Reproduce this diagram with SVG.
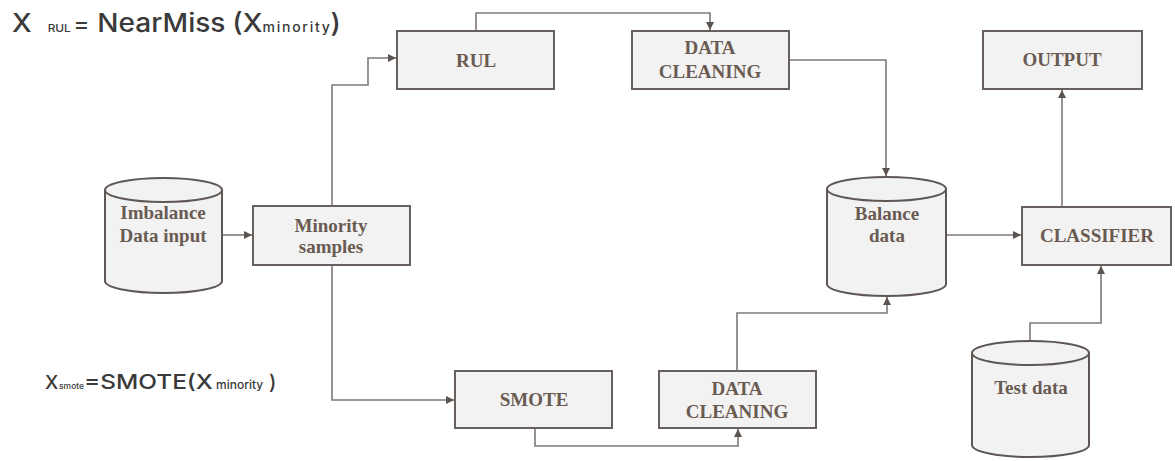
<svg xmlns="http://www.w3.org/2000/svg" width="1175" height="461" viewBox="0 0 1175 461">
<defs>
<style>
.box{fill:#f2f2f2;stroke:#67605c;stroke-width:2}
.cyl{fill:#f2f2f2;stroke:#5f5753;stroke-width:2}
.lbl{font-family:"Liberation Serif","Times New Roman",serif;font-weight:bold;font-size:19px;fill:#6a5b52;text-anchor:middle}
.con{fill:none;stroke:#7d7a78;stroke-width:1.6}
.f{font-family:Inter,"Liberation Sans",Arial,sans-serif;font-weight:500;fill:#3a3a3a}
</style>
<marker id="ah" viewBox="0 0 10 10" refX="10" refY="5" markerWidth="8" markerHeight="8" markerUnits="userSpaceOnUse" orient="auto">
<path d="M0,0 L10,5 L0,10 z" fill="#5a5350"/>
</marker>
</defs>
<rect width="1175" height="461" fill="#ffffff"/>

<g id="formula-rul">
<text class="f" transform="translate(12,32) scale(1.08,1)" font-size="26"><tspan x="0">X</tspan><tspan x="33" font-size="11">RUL</tspan><tspan x="57" font-size="22">=</tspan><tspan x="79">NearMiss</tspan><tspan x="204">(X</tspan><tspan x="232" font-size="13" letter-spacing="1.6">minority</tspan><tspan x="295">)</tspan></text>
</g>
<g id="formula-smote">
<text class="f" font-size="19" y="389"><tspan x="45">X</tspan><tspan x="59" font-size="8.5">smote</tspan><tspan x="216" font-size="12">minority</tspan><tspan x="269" font-size="20">)</tspan></text>
<text class="f" font-size="20" transform="translate(84,389) scale(1.22,1)">=SMOTE(X</text>
</g>

<g id="connectors">
<path class="con" d="M222,235 H252" marker-end="url(#ah)"/>
<path class="con" d="M332,206 V85 H368 V58 H396" marker-end="url(#ah)"/>
<path class="con" d="M332,265 V400 H454" marker-end="url(#ah)"/>
<path class="con" d="M476,31 V13 H710 V30" marker-end="url(#ah)"/>
<path class="con" d="M789,60 H886 V176" marker-end="url(#ah)"/>
<path class="con" d="M535,428 V446 H738 V429" marker-end="url(#ah)"/>
<path class="con" d="M737,371 V313 H887 V297" marker-end="url(#ah)"/>
<path class="con" d="M946,235 H1021" marker-end="url(#ah)"/>
<path class="con" d="M1062,207 V90" marker-end="url(#ah)"/>
<path class="con" d="M1030,341 V323 H1101 V266" marker-end="url(#ah)"/>
</g>

<g id="imbalance-data">
<path class="cyl" d="M105,190 V281 A58.5,12 0 0 0 222,281 V190 A58.5,12 0 0 0 105,190 Z"/>
<path class="cyl" fill="none" d="M105,190 A58.5,12 0 0 0 222,190"/>
<text class="lbl" x="163" y="219">Imbalance</text>
<text class="lbl" x="163" y="242">Data input</text>
</g>

<g id="minority-samples">
<rect class="box" x="253" y="206" width="157" height="59"/>
<text class="lbl" x="331" y="232">Minority</text>
<text class="lbl" x="331" y="253">samples</text>
</g>

<g id="rul">
<rect class="box" x="397" y="31" width="157" height="58"/>
<text class="lbl" x="476" y="67">RUL</text>
</g>

<g id="data-cleaning-top">
<rect class="box" x="632" y="31" width="157" height="58"/>
<text class="lbl" x="710" y="54">DATA</text>
<text class="lbl" x="710" y="78">CLEANING</text>
</g>

<g id="balance-data">
<path class="cyl" d="M827,189 V284 A59.5,12 0 0 0 946,284 V189 A59.5,12 0 0 0 827,189 Z"/>
<path class="cyl" fill="none" d="M827,189 A59.5,12 0 0 0 946,189"/>
<text class="lbl" x="887" y="220">Balance</text>
<text class="lbl" x="887" y="242">data</text>
</g>

<g id="classifier">
<rect class="box" x="1022" y="207" width="149" height="58"/>
<text class="lbl" x="1097" y="242">CLASSIFIER</text>
</g>

<g id="output">
<rect class="box" x="983" y="31" width="159" height="58"/>
<text class="lbl" x="1062" y="66">OUTPUT</text>
</g>

<g id="smote">
<rect class="box" x="455" y="371" width="157" height="57"/>
<text class="lbl" x="534" y="406">SMOTE</text>
</g>

<g id="data-cleaning-bottom">
<rect class="box" x="659" y="371" width="157" height="57"/>
<text class="lbl" x="737" y="395">DATA</text>
<text class="lbl" x="737" y="418">CLEANING</text>
</g>

<g id="test-data">
<path class="cyl" d="M972,353 V445 A58.5,12 0 0 0 1089,445 V353 A58.5,12 0 0 0 972,353 Z"/>
<path class="cyl" fill="none" d="M972,353 A58.5,12 0 0 0 1089,353"/>
<text class="lbl" x="1031" y="394">Test data</text>
</g>
</svg>
